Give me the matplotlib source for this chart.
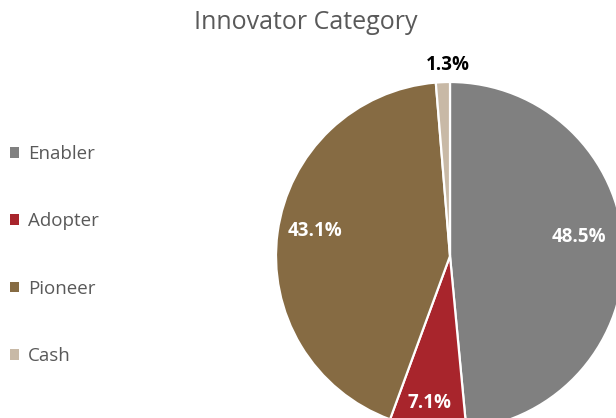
import matplotlib
matplotlib.use("Agg")
import matplotlib.pyplot as plt
import numpy as np
from matplotlib.patches import Patch

categories = ["Enabler", "Adopter", "Pioneer", "Cash"]
values = [48.5, 7.1, 43.1, 1.3]
colors = ["#808080", "#A8252C", "#866B43", "#C8B9A6"]
title = "Innovator Category"

plt.rcParams['font.family'] = ['Open Sans', 'DejaVu Sans']

W, H = 616, 418
fig = plt.figure(figsize=(W/100, H/100), dpi=100)
ax = fig.add_axes([0, 0, 1, 1])

cx, cy, R = 450, H - 256, 174
wedges, _ = ax.pie(values, colors=colors, startangle=90, counterclock=False,
                   center=(cx, cy), radius=R, frame=True,
                   wedgeprops=dict(edgecolor='white', linewidth=1.6))
ax.set_xlim(0, W)
ax.set_ylim(0, H)
ax.set_aspect('equal')
ax.axis('off')

# label placement: (radius fraction, angle offset deg, color)
label_style = [(0.75, 5.6, 'white'), (0.85, -0.4, 'white'), (0.79, -2.7, 'white'), (1.10, -1.7, 'black')]
for w, v, (rf, da, col) in zip(wedges, values, label_style):
    ang = np.deg2rad((w.theta1 + w.theta2) / 2 + da)
    x = cx + rf * R * np.cos(ang)
    y = cy + rf * R * np.sin(ang)
    ax.text(x, y, f"{v}%", ha='center', va='center', fontsize=13.5,
            fontweight='bold', color=col)

fig.text(0.497, 0.947, title, ha='center', va='center', fontsize=18, color='#595959')

handles = [Patch(facecolor=c, edgecolor='none') for c in colors]
leg = fig.legend(handles, categories, loc='upper left', bbox_to_anchor=(0.016, 0.653),
                 frameon=False, fontsize=13.5, labelspacing=2.63, handlelength=0.5,
                 handleheight=0.5, handletextpad=0.45, borderpad=0, borderaxespad=0)
for t in leg.get_texts():
    t.set_color('#595959')

fig.savefig("out.png", dpi=100)
